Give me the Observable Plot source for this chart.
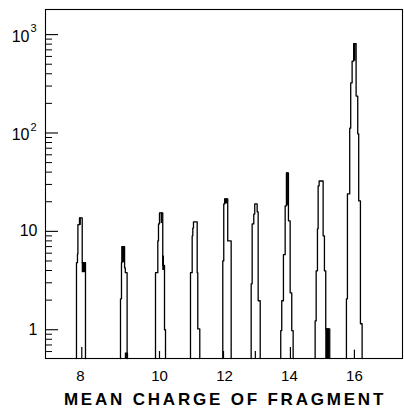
<!DOCTYPE html>
<html><head><meta charset="utf-8">
<script src="https://cdn.jsdelivr.net/npm/d3@7"></script>
<script src="https://cdn.jsdelivr.net/npm/@observablehq/plot@0.6"></script>
<style>
html,body{margin:0;padding:0;background:#fff;}
#chart{width:404px;height:412px;}
</style></head><body><div id="chart"></div>
<script>
// ---- data (mean charge bin edges, counts per bin) ----
const FLOOR = 0.51;
const edges8  = [7.907, 7.93, 7.94, 7.977, 8.04, 8.116];
const counts8 = [4.8, 5.9, 11.7, 13.7, 4.8];
const edges9  = [8.93, 8.953, 8.965, 9.03, 9.05, 9.10, 9.11];
const counts9 = [2.06, 4.8, 7.0, 4.26, 3.8, 0.58];
const edges10  = [9.889, 9.953, 9.972, 10.0, 10.10, 10.154, 10.185];
const counts10 = [3.8, 8.0, 11.9, 15.4, 4.5, 1.0];
const edges11  = [10.954, 11.006, 11.025, 11.046, 11.16, 11.178, 11.24];
const counts11 = [3.8, 9.0, 10.8, 12.5, 3.8, 1.02];
const edges12  = [11.948, 11.978, 12.009, 12.10, 12.206];
const counts12 = [5.0, 19, 21.4, 8.0];
const edges13  = [12.822, 12.852, 12.902, 12.932, 13.006, 13.037, 13.10];
const counts13 = [2.93, 11.9, 15, 19, 15.8, 1.97];
const edges14  = [13.732, 13.763, 13.815, 13.868, 13.908, 13.969, 14.022, 14.071, 14.114];
const counts14 = [0.98, 1.97, 5.8, 18.2, 39.2, 12.8, 2.37, 0.98];
const edges15  = [14.791, 14.822, 14.862, 14.883, 14.914, 15.037, 15.077, 15.117, 15.24];
const counts15 = [1.23, 3.97, 10.6, 29, 32.5, 9, 3.97, 1.02];
const edges16  = [15.754, 15.785, 15.855, 15.886, 15.929, 15.978, 16.052, 16.102, 16.132, 16.185, 16.237];
const counts16 = [2.06, 24, 112, 323, 538, 807, 237, 98, 20.4, 1.15];

// heavy (filled) parts of the trace
const fillX1 = [7.977, 8.04, 8.965, 10.05, 10.10, 12.009, 13.908, 15.117, 15.978, 9.05];
const fillX2 = [8.02, 8.116, 9.03, 10.10, 10.154, 12.10, 13.969, 15.24, 16.052, 9.11];
const fillY1 = [11.5, 3.8, 4.8, 12, 4.0, 19, 18.2, FLOOR, 538, FLOOR];
const fillY2 = [13.7, 4.8, 7.0, 15.4, 5.6, 21.4, 39.2, 1.02, 807, 0.58];

// small inner marks near the baseline
const innerX = [8.03, 10.0, 11.97, 12.95, 14.03, 16.0];
const innerV = [0.66, 0.6, 0.6, 0.6, 0.66, 0.62];

// axes
const xTicks = [8, 10, 12, 14, 16];
const yMajor = [1, 10, 100, 1000];
const yBase  = ["1", "10", "10", "10"];
const yExp   = ["", "", "2", "3"];
const yMinor = [0.6, 0.7, 0.8, 0.9, 2, 3, 4, 5, 6, 7, 8, 9, 20, 30, 40, 50, 60, 70, 80, 90, 200, 300, 400, 500, 600, 700, 800, 900];
const xTitle = "MEAN CHARGE OF FRAGMENT";

// ---- build tables ----
const peaks = [[edges8,counts8],[edges9,counts9],[edges10,counts10],[edges11,counts11],[edges12,counts12],[edges13,counts13],[edges14,counts14],[edges15,counts15],[edges16,counts16]];
const rows = [];
peaks.forEach(([e, c], k) => {
  rows.push({peak: k, x: e[0], y: FLOOR});
  c.forEach((v, i) => rows.push({peak: k, x: e[i], y: v}));
  rows.push({peak: k, x: e[e.length - 1], y: FLOOR});
});
const fills = fillX1.map((d, i) => ({x1: d, x2: fillX2[i], y1: fillY1[i], y2: fillY2[i]}));
const inner = innerX.map((d, i) => ({x: d, v: innerV[i]}));
const labels = yMajor.map((v, i) => ({v, base: yBase[i], exp: yExp[i]}));

const W = 404, H = 412, ML = 45, MR = 2, MT = 9, MB = 54;
const plotW = W - ML - MR;

const chart = Plot.plot({
  width: W, height: H,
  marginLeft: ML, marginRight: MR, marginTop: MT, marginBottom: MB,
  style: {fontFamily: "'Liberation Sans', Arial, sans-serif", fontSize: "15px", background: "#fff", color: "#000"},
  x: {type: "linear", domain: [7.19, 8, 9, 10, 17.48], range: [45, 80, 123, 159, 402], ticks: xTicks, tickSize: 0, tickPadding: 12, label: null},
  y: {type: "log", domain: [FLOOR, 1800], axis: null},
  marks: [
    Plot.frame({stroke: "#000", strokeWidth: 1.1}),
    Plot.tickY(yMajor, {y: d => d, insetRight: plotW - 13, stroke: "#000", strokeWidth: 1.1}),
    Plot.tickY(yMinor, {y: d => d, insetRight: plotW - 7, stroke: "#000", strokeWidth: 1}),
    Plot.text(labels.filter(d => !d.exp), {y: "v", text: "base", frameAnchor: "left", textAnchor: "end", dx: -8, fontSize: 16}),
    Plot.text(labels.filter(d => d.exp), {y: "v", text: "base", frameAnchor: "left", textAnchor: "end", dx: -16, dy: 2, fontSize: 16}),
    Plot.text(labels.filter(d => d.exp), {y: "v", text: "exp", frameAnchor: "left", textAnchor: "start", dx: -15, dy: -6, fontSize: 11}),
    Plot.rect(fills, {x1: "x1", x2: "x2", y1: "y1", y2: "y2", fill: "#000"}),
    Plot.ruleX(inner, {x: "x", y1: FLOOR, y2: "v", stroke: "#000", strokeWidth: 1.2}),
    Plot.line(rows, {x: "x", y: "y", z: "peak", curve: "step-after", stroke: "#000", strokeWidth: 1.3}),
    Plot.text([xTitle], {text: d => d, frameAnchor: "bottom", dy: 46, dx: 1, fontSize: 17, fontWeight: "bold"})
  ]
});
d3.select(chart).selectAll("text").filter(function () { return this.textContent === xTitle; })
  .attr("letter-spacing", "2.8px");
document.getElementById("chart").appendChild(chart);
</script></body></html>
